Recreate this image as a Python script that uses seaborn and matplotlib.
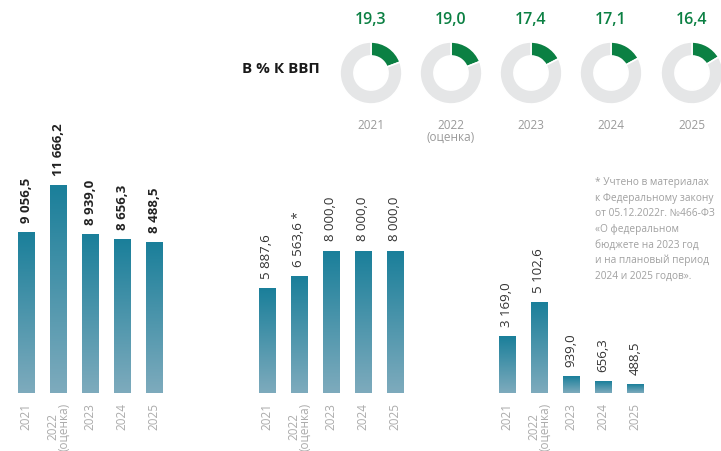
import numpy as np
import pandas as pd
import matplotlib
matplotlib.use("Agg")
import matplotlib.pyplot as plt
import seaborn as sns
from matplotlib.colors import LinearSegmentedColormap

# ---------------- data ----------------
years = ["2021", "2022\n(оценка)", "2023", "2024", "2025"]
group1 = [9056.5, 11666.2, 8939.0, 8656.3, 8488.5]
group2 = [5887.6, 6563.6, 8000.0, 8000.0, 8000.0]
group3 = [3169.0, 5102.6, 939.0, 656.3, 488.5]
group2_marks = ["", " *", "", "", ""]
gdp_share = [19.3, 19.0, 17.4, 17.1, 16.4]
gdp_years = ["2021", "2022\n(оценка)", "2023", "2024", "2025"]
gdp_title = "В % К ВВП"
footnote = [
    "* Учтено в материалах",
    "к Федеральному закону",
    "от 05.12.2022г. №466-ФЗ",
    "«О федеральном",
    "бюджете на 2023 год",
    "и на плановый период",
    "2024 и 2025 годов».",
]

# ---------------- style ----------------
sns.set_theme(style="white")
plt.rcParams["font.family"] = ["Open Sans", "DejaVu Sans"]

W, H = 721, 451
fig = plt.figure(figsize=(W / 100, H / 100), dpi=100)
fig.patch.set_facecolor("white")


def px_axes(x, y_top, w, h):
    return fig.add_axes([x / W, 1 - (y_top + h) / H, w / W, h / H])


def fmt(v):
    return f"{v:,.1f}".replace(",", " ").replace(".", ",")


grad_cmap = LinearSegmentedColormap.from_list("g", ["#7eabbd", "#1a7f9a"])
grad = np.linspace(0, 1, 256).reshape(-1, 1)

YMAX = 13000
bar_bottom = 393
bar_h = YMAX * 0.01775

groups = [
    (group1, ["", "", "", "", ""], 10, True),
    (group2, group2_marks, 251, False),
    (group3, ["", "", "", "", ""], 491, False),
]

for vals, marks, left, bold in groups:
    ax = px_axes(left, bar_bottom - bar_h, 160, bar_h)
    df = pd.DataFrame({"year": years, "value": vals})
    sns.barplot(data=df, x="year", y="value", ax=ax, width=0.53,
                color="#1a7f9a", saturation=1, errorbar=None)
    for p in list(ax.patches):
        x0, w, h = p.get_x(), p.get_width(), p.get_height()
        ax.imshow(grad, extent=[x0, x0 + w, 0, h], aspect="auto",
                  cmap=grad_cmap, origin="lower", zorder=2,
                  interpolation="bicubic")
        p.set_visible(False)
    for i, (v, m) in enumerate(zip(vals, marks)):
        ax.annotate(fmt(v) + m, (i, v), xytext=(0, 7),
                    textcoords="offset points", rotation=90,
                    ha="center", va="bottom", fontsize=9.5,
                    fontweight="bold" if bold else "normal",
                    color="#222222" if bold else "#333333",
                    annotation_clip=False)
    ax.set_xlim(-0.5, 4.5)
    ax.set_ylim(0, YMAX)
    ax.set_xticks(range(len(years)))
    ax.set_xticklabels(years, rotation=90, color="#ababab", fontsize=8.5,
                       linespacing=0.8)
    ax.tick_params(axis="x", length=0, pad=7)
    ax.set_yticks([])
    ax.set_xlabel("")
    ax.set_ylabel("")
    for s in ax.spines.values():
        s.set_visible(False)
    ax.patch.set_alpha(0)

# ---------------- donuts ----------------
centers = [371, 451, 531, 611, 692]
cy = 73
r = 31
green = "#0b8043"
for cx, pct, yr in zip(centers, gdp_share, gdp_years):
    ax = px_axes(cx - r, cy - r, 2 * r, 2 * r)
    ax.pie([pct, 100 - pct], colors=[green, "#e5e6e7"], startangle=90,
           counterclock=False, radius=1,
           wedgeprops=dict(width=0.45, edgecolor="white", linewidth=1.2))
    ax.set_xlim(-1, 1)
    ax.set_ylim(-1, 1)
    ax.set_aspect("equal")
    ax.axis("off")
    fig.text(cx / W, 1 - 20 / H, f"{pct:.1f}".replace(".", ","),
             ha="center", va="center", fontsize=11.5, fontweight="semibold",
             color=green)
    fig.text(cx / W, 1 - 119 / H, yr, ha="center", va="top",
             fontsize=8.5, color="#9a9a9a", linespacing=0.85)

fig.text(242 / W, 1 - 69 / H, gdp_title, ha="left", va="center",
         fontsize=11, fontweight="bold", color="#1a1a1a")

for k, line in enumerate(footnote):
    fig.text(595 / W, 1 - (183 + 15.5 * k) / H, line, ha="left",
             va="center", fontsize=7.3, color="#a0a0a0")

fig.savefig("out.png", dpi=100, facecolor="white")
